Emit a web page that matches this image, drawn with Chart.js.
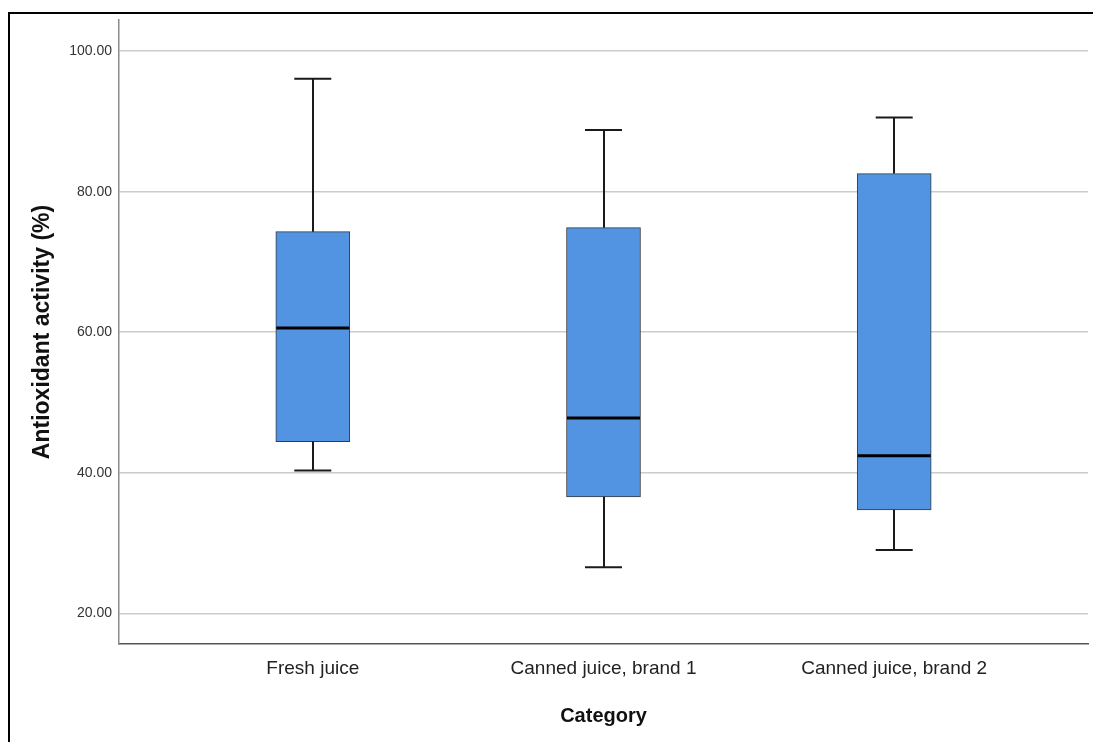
<!DOCTYPE html>
<html>
<head>
<meta charset="utf-8">
<style>
  html, body { margin: 0; padding: 0; background: #fff; overflow: hidden; }
  #wrap { position: relative; width: 1093px; height: 742px; }
  #chart { position: absolute; left: 0; top: 0; }
  #frame {
    position: absolute; left: 8px; top: 12px; width: 1200px; height: 800px;
    border-left: 2px solid #000; border-top: 2px solid #000; pointer-events: none;
  }
</style>
<script src="https://cdn.jsdelivr.net/npm/chart.js@4/dist/chart.umd.min.js"></script>
</head>
<body>
<div id="wrap">
  <canvas id="chart" width="1093" height="742"></canvas>
  <div id="frame"></div>
</div>
<script>
// Antioxidant activity (%) by juice category: five-number summaries
const categories = ['Fresh juice', 'Canned juice, brand 1', 'Canned juice, brand 2'];
const whiskerLow  = [40.31, 26.55, 29.02];
const quartile1   = [44.44, 36.57, 34.72];
const medians     = [60.60, 47.78, 42.41];
const quartile3   = [74.32, 74.89, 82.58];
const whiskerHigh = [96.07, 88.77, 90.56];
const yTicks = [20, 40, 60, 80, 100];

const FONT = "'Liberation Sans', Arial, sans-serif";

// whiskers, caps and median lines, placed through the chart's scales
const boxExtras = {
  id: 'boxExtras',
  afterDatasetsDraw(chart) {
    const { ctx, scales: { x, y } } = chart;
    const meta = chart.getDatasetMeta(0);
    ctx.save();
    categories.forEach((c, i) => {
      const cx = x.getPixelForValue(i);
      const bar = meta.data[i];
      const half = bar.width / 2;
      const capHalf = half / 2;
      ctx.strokeStyle = '#1a1a1a';
      ctx.lineWidth = 2;
      ctx.lineCap = 'butt';
      // upper whisker
      ctx.beginPath();
      ctx.moveTo(Math.round(cx), y.getPixelForValue(quartile3[i]));
      ctx.lineTo(Math.round(cx), y.getPixelForValue(whiskerHigh[i]));
      ctx.moveTo(cx - capHalf, y.getPixelForValue(whiskerHigh[i]));
      ctx.lineTo(cx + capHalf, y.getPixelForValue(whiskerHigh[i]));
      // lower whisker
      ctx.moveTo(Math.round(cx), y.getPixelForValue(quartile1[i]));
      ctx.lineTo(Math.round(cx), y.getPixelForValue(whiskerLow[i]));
      ctx.moveTo(cx - capHalf, y.getPixelForValue(whiskerLow[i]));
      ctx.lineTo(cx + capHalf, y.getPixelForValue(whiskerLow[i]));
      ctx.stroke();
      // median
      ctx.strokeStyle = '#000';
      ctx.lineWidth = 3;
      ctx.beginPath();
      ctx.moveTo(cx - half + 0.5, y.getPixelForValue(medians[i]));
      ctx.lineTo(cx + half - 0.5, y.getPixelForValue(medians[i]));
      ctx.stroke();
    });
    ctx.restore();
  }
};

new Chart(document.getElementById('chart'), {
  type: 'bar',
  data: {
    datasets: [{
      data: categories.map((c, i) => ({ x: i, y: [quartile1[i], quartile3[i]] })),
      backgroundColor: '#5294e2',
      borderColor: '#3a3a3a',
      borderWidth: 1,
      borderSkipped: false,
      barThickness: 74
    }]
  },
  options: {
    responsive: false,
    animation: false,
    events: [],
    layout: { padding: { top: 20, right: 5, left: 0, bottom: 0 } },
    plugins: { legend: { display: false }, tooltip: { enabled: false } },
    scales: {
      x: {
        type: 'linear',
        offset: false,
        min: -2 / 3,
        max: 2 + 2 / 3,
        afterBuildTicks(scale) { scale.ticks = categories.map((c, i) => ({ value: i })); },
        afterFit(scale) { scale.height = 98; },
        grid: { display: false, drawTicks: false, offset: false },
        border: { display: true, color: '#555', width: 1.5 },
        ticks: {
          padding: 13,
          color: '#222',
          font: { family: FONT, size: 19 },
          maxRotation: 0,
          autoSkip: false,
          callback: (v) => categories[v]
        },
        title: {
          display: true,
          text: 'Category',
          color: '#111',
          font: { family: FONT, size: 20, weight: 'bold', lineHeight: 1 },
          padding: { top: 0, bottom: 16 }
        }
      },
      y: {
        min: 15.63,
        max: 104.44,
        afterBuildTicks(scale) { scale.ticks = yTicks.map(v => ({ value: v })); },
        afterFit(scale) { scale.width = 119; },
        grid: { color: '#cbcbcb', lineWidth: 1.5, drawTicks: false },
        border: { display: true, color: '#8a8a8a', width: 1.5 },
        ticks: {
          padding: 7,
          color: '#333',
          font: { family: FONT, size: 14 },
          callback: (v) => Number(v).toFixed(2)
        },
        title: {
          display: true,
          text: 'Antioxidant activity (%)',
          color: '#111',
          font: { family: FONT, size: 23, weight: 'bold', lineHeight: 1 },
          padding: { top: 31, bottom: 0 }
        }
      }
    }
  },
  plugins: [boxExtras]
});
</script>
</body>
</html>
